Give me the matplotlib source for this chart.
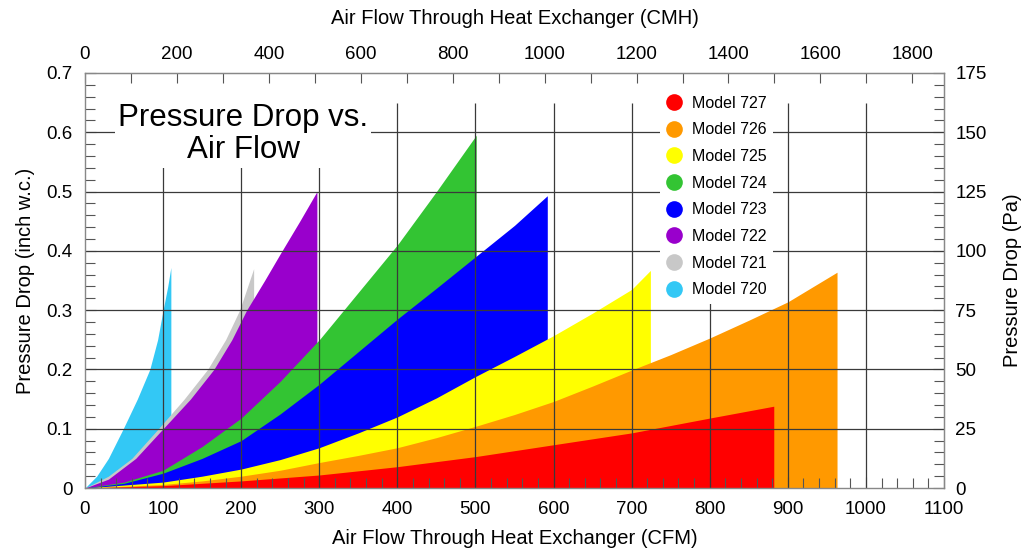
import matplotlib
matplotlib.use('Agg')
import matplotlib.pyplot as plt
from matplotlib.ticker import MultipleLocator, FuncFormatter
from matplotlib.lines import Line2D

plt.rcParams['font.family'] = ['Liberation Sans', 'DejaVu Sans']

# upper pressure drop curve of each model
# flow in CFM, pressure drop in inch w.c.
flow_720 = [0, 15, 30, 49, 67, 83, 93, 100, 106, 110]
dp_720 = [0, 0.02, 0.05, 0.1, 0.15, 0.2, 0.25, 0.3, 0.34, 0.372]
flow_721 = [0, 30, 60, 94, 127, 157, 180, 198, 216]
dp_721 = [0, 0.02, 0.05, 0.1, 0.15, 0.2, 0.25, 0.3, 0.37]
flow_722 = [0, 30, 65, 100, 135, 165, 188, 207, 230, 250, 275, 297]
dp_722 = [0, 0.015, 0.05, 0.1, 0.15, 0.2, 0.25, 0.3, 0.35, 0.395, 0.45, 0.5]
flow_723 = [0, 50, 100, 150, 200, 250, 300, 350, 400, 450, 500, 550, 592]
dp_723 = [0, 0.008, 0.025, 0.05, 0.08, 0.125, 0.175, 0.23, 0.285, 0.337, 0.39, 0.443, 0.493]
flow_724 = [0, 50, 100, 150, 200, 250, 300, 350, 400, 450, 501]
dp_724 = [0, 0.01, 0.03, 0.07, 0.118, 0.18, 0.25, 0.33, 0.41, 0.5, 0.595]
flow_725 = [0, 100, 150, 200, 250, 300, 350, 400, 450, 500, 550, 600, 650, 700, 724]
dp_725 = [0, 0.01, 0.02, 0.032, 0.048, 0.068, 0.093, 0.12, 0.152, 0.188, 0.222, 0.257, 0.295, 0.335, 0.367]
flow_726 = [0, 100, 150, 200, 250, 300, 350, 400, 450, 500, 550, 600, 650, 700, 750, 800, 850, 900, 963]
dp_726 = [0, 0.006, 0.012, 0.02, 0.03, 0.043, 0.055, 0.068, 0.085, 0.104, 0.124, 0.146, 0.172,
          0.199, 0.225, 0.253, 0.283, 0.314, 0.364]
flow_727 = [0, 100, 200, 300, 400, 500, 600, 700, 800, 882]
dp_727 = [0, 0.004, 0.012, 0.022, 0.036, 0.053, 0.073, 0.093, 0.118, 0.138]

legend_names = ['Model 727', 'Model 726', 'Model 725', 'Model 724',
                'Model 723', 'Model 722', 'Model 721', 'Model 720']
legend_colors = ['#ff0000', '#ff9900', '#ffff00', '#33c433',
                 '#0000ff', '#9900cc', '#c8c8c8', '#33c8f5']

# drawing order, back to front (steeper curves behind)
layers = [
    (flow_720, dp_720, '#33c8f5'),
    (flow_721, dp_721, '#c8c8c8'),
    (flow_722, dp_722, '#9900cc'),
    (flow_724, dp_724, '#33c433'),
    (flow_723, dp_723, '#0000ff'),
    (flow_725, dp_725, '#ffff00'),
    (flow_726, dp_726, '#ff9900'),
    (flow_727, dp_727, '#ff0000'),
]

CMH_PER_CFM = 1.699
PA_PER_INCH = 250.0

fig = plt.figure(figsize=(10.26, 5.53), dpi=100)
ax = fig.add_axes([0.0828, 0.1175, 0.8373, 0.7505])

for fl, dp, c in layers:
    ax.fill_between(fl, 0, dp, color=c, lw=0, zorder=1)

grid_col = '#3a3a3a'
ax.hlines([0.1, 0.2, 0.3, 0.4, 0.5, 0.6], 0, 1100, color=grid_col, lw=0.9, zorder=2)
ax.vlines(range(100, 1001, 100), 0, 0.65, color=grid_col, lw=0.9, zorder=2)

ax.set_xlim(0, 1100)
ax.set_ylim(0, 0.7)
ax.xaxis.set_major_locator(MultipleLocator(100))
ax.xaxis.set_minor_locator(MultipleLocator(20))
ax.yaxis.set_major_locator(MultipleLocator(0.1))
ax.yaxis.set_minor_locator(MultipleLocator(0.02))
ax.yaxis.set_major_formatter(FuncFormatter(lambda v, p: '0' if abs(v) < 1e-9 else '%.1f' % v))
ax.tick_params(which='both', direction='in', colors='#555555', labelcolor='black',
               labelsize=13.5, top=False, right=False)
ax.tick_params(which='major', length=8, width=0.8)
ax.tick_params(which='minor', length=7, width=0.8)
ax.tick_params(axis='x', pad=9)
ax.tick_params(axis='y', pad=9)
for s in ax.spines.values():
    s.set_color('#888888')
    s.set_linewidth(1.0)
    s.set_zorder(3)

ax.set_xlabel('Air Flow Through Heat Exchanger (CFM)', fontsize=14.5, labelpad=8)
ax.set_ylabel('Pressure Drop (inch w.c.)', fontsize=14.5, labelpad=8)

# top axis in CMH
top = ax.secondary_xaxis('top', functions=(lambda q: q * CMH_PER_CFM, lambda q: q / CMH_PER_CFM))
top.xaxis.set_major_locator(MultipleLocator(200))
top.xaxis.set_minor_locator(MultipleLocator(100))
top.tick_params(which='both', direction='in', length=7, width=0.8, colors='#555555',
                labelcolor='black', labelsize=13.5, pad=7)
top.set_xlabel('Air Flow Through Heat Exchanger (CMH)', fontsize=14.5, labelpad=16)
top.spines['top'].set_color('#888888')

# right axis in Pa
right = ax.secondary_yaxis('right', functions=(lambda p: p * PA_PER_INCH, lambda p: p / PA_PER_INCH))
right.yaxis.set_major_locator(MultipleLocator(25))
right.yaxis.set_minor_locator(MultipleLocator(5))
right.tick_params(which='major', direction='in', length=8, width=0.8, colors='#555555',
                  labelcolor='black', labelsize=13.5, pad=8)
right.tick_params(which='minor', direction='in', length=7, width=0.8, colors='#555555')
right.set_ylabel('Pressure Drop (Pa)', fontsize=14.5, labelpad=12)
right.spines['right'].set_color('#888888')

ax.text(0.184, 0.853, 'Pressure Drop vs.\nAir Flow', transform=ax.transAxes,
        ha='center', va='center', fontsize=22.5, linespacing=1.07, zorder=4,
        bbox=dict(facecolor='white', edgecolor='none', pad=2))

handles = [Line2D([], [], ls='none', marker='o', markersize=12, color=c, markeredgewidth=0)
           for c in legend_colors]
leg = ax.legend(handles, legend_names, loc='upper left', bbox_to_anchor=(0.66, 0.98),
                frameon=True, framealpha=1, facecolor='white', edgecolor='none',
                fontsize=11.5, labelspacing=0.73, handletextpad=0.6, handlelength=1.0,
                borderpad=0.4, fancybox=False)
leg.set_zorder(5)

fig.savefig('out.png', dpi=100)
